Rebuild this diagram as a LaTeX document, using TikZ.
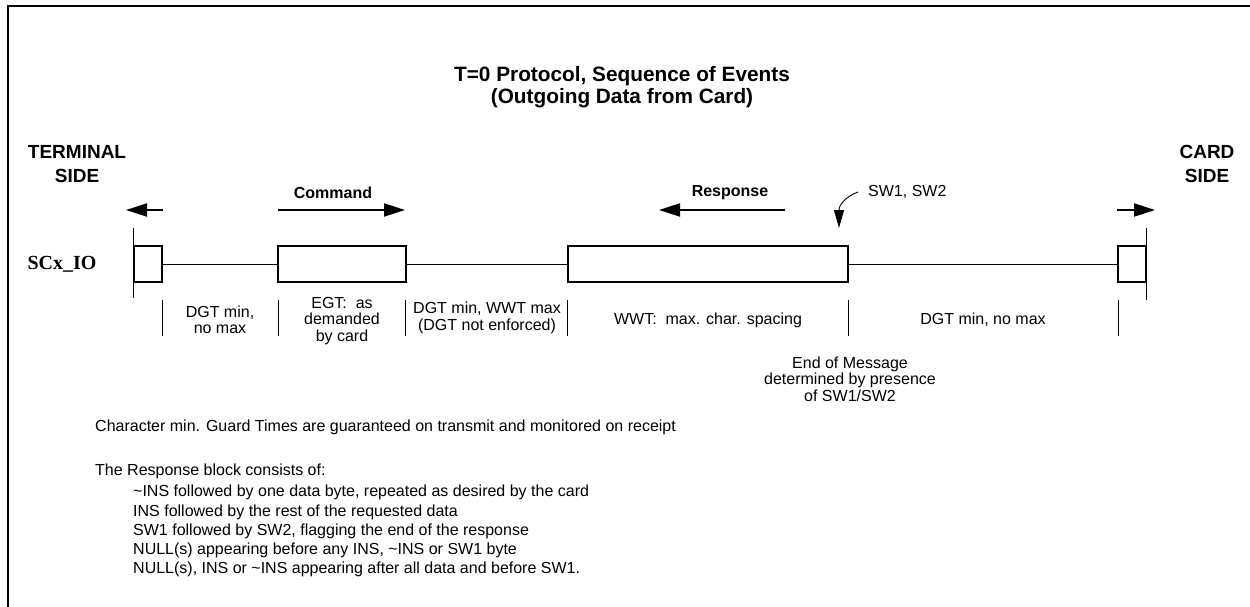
\documentclass[tikz,border=0pt]{standalone}
\usepackage{fontspec}
\setmainfont{Liberation Sans}
\newfontfamily\sigfont{Liberation Serif}
\usepackage{tikz}
\usetikzlibrary{positioning,arrows.meta}

\begin{document}
\begin{tikzpicture}[x=1pt,y=-1pt,
		  every node/.style={font=\fontsize{16}{16.5}\selectfont,inner sep=0pt},
		  sidetext/.style={font=\fontsize{19}{23.5}\selectfont\bfseries,align=center},
		  dirtext/.style={font=\fontsize{16}{19}\selectfont\bfseries},
		  segtext/.style={align=center},
		  slot/.style={draw,line width=1.3pt,minimum height=36pt},
		  wire/.style={line width=0.9pt},
		  flow/.style={line width=2pt,-{Triangle[length=21pt,width=13pt]}},
		  notetext/.style={anchor=north west,align=left,font=\fontsize{16}{19.3}\selectfont}
		]
			\useasboundingbox (0,0) rectangle (1250,607);

			% the frame
			\draw[line width=2.8pt] (8,607) -- (8,6) -- (1250,6);

			% the title
			\node[font=\fontsize{20.8}{22.5}\selectfont\bfseries,align=center] (title) at (622,87)
			  {T=0 Protocol, Sequence of Events\\(Outgoing Data from Card)};

			% the two sides
			\node[sidetext] (term) at (77,164) {TERMINAL\\SIDE};
			\node[sidetext] (card) at (1207,164) {CARD\\SIDE};
			\node[font=\fontsize{20}{24}\sigfont\bfseries] (io) at (62,264) {SCx\_IO};

			% the slots on the line
			\node[slot,minimum width=28pt] (lslot) at (148,264) {};
			\node[slot,minimum width=128pt] (cmd) at (342,264) {};
			\node[slot,minimum width=280pt] (resp) at (708,264) {};
			\node[slot,minimum width=28pt] (rslot) at (1132,264) {};

			% the line
			\draw[wire] (lslot) -- (cmd);
			\draw[wire] (cmd) -- (resp);
			\draw[wire] (resp) -- (rslot);
			\draw[wire] (lslot.west |- 0,228) -- (lslot.west |- 0,298);
			\draw[wire] (rslot.east |- 0,228) -- (rslot.east |- 0,300);

			% the directions
			\draw[flow] (163,210) -- (126,210);
			\draw[flow] (278,210) -- (405,210);
			\draw[flow] (785,210) -- (659,210);
			\draw[flow] (1117,210) -- (1155,210);
			\node[dirtext] (cmdlbl) at (333,193) {Command};
			\node[dirtext] (resplbl) at (730,193) {Response};

			% the status bytes
			\node[anchor=west] (sw) at (868,192) {SW1, SW2};
			\coordinate (swtip) at (839,228);
			\draw[wire,-{Triangle[length=18pt,width=10pt]}] ([xshift=-10pt]sw.west)
			  .. controls (847,196) and (839,204) .. (swtip);

			% the ticks below the line
			\foreach \x in {162,278,405,567,848,1118}
			  \draw[wire] (\x,300) -- (\x,336);

			% the spans
			\node[segtext] (dgt1) at (220,320) {DGT min,\\no max};
			\node[segtext] (egt) at (342,321) {EGT:\ \ as\\demanded\\by card};
			\node[segtext] (dgt2) at (487,318) {DGT min, WWT max\\(DGT not enforced)};
			\node[segtext] (wwt) at (708,320) {WWT:\ \ max. char. spacing};
			\node[segtext] (dgt3) at (983,320) {DGT min, no max};
			\node[segtext] (eom) at (850,379) {End of Message\\determined by presence\\of SW1/SW2};

			% the notes
			\node[notetext] (guard) at (95,420) {Character min. Guard Times are guaranteed on transmit and monitored on receipt};
			\node[notetext] (blk) at (95,464) {The Response block consists of:};
			\node[notetext] (items) at (133,485) {\textasciitilde INS followed by one data byte, repeated as desired by the card\\
			  INS followed by the rest of the requested data\\
			  SW1 followed by SW2, flagging the end of the response\\
			  NULL(s) appearing before any INS, \textasciitilde INS or SW1 byte\\
			  NULL(s), INS or \textasciitilde INS appearing after all data and before SW1.};

		\end{tikzpicture}
\end{document}
